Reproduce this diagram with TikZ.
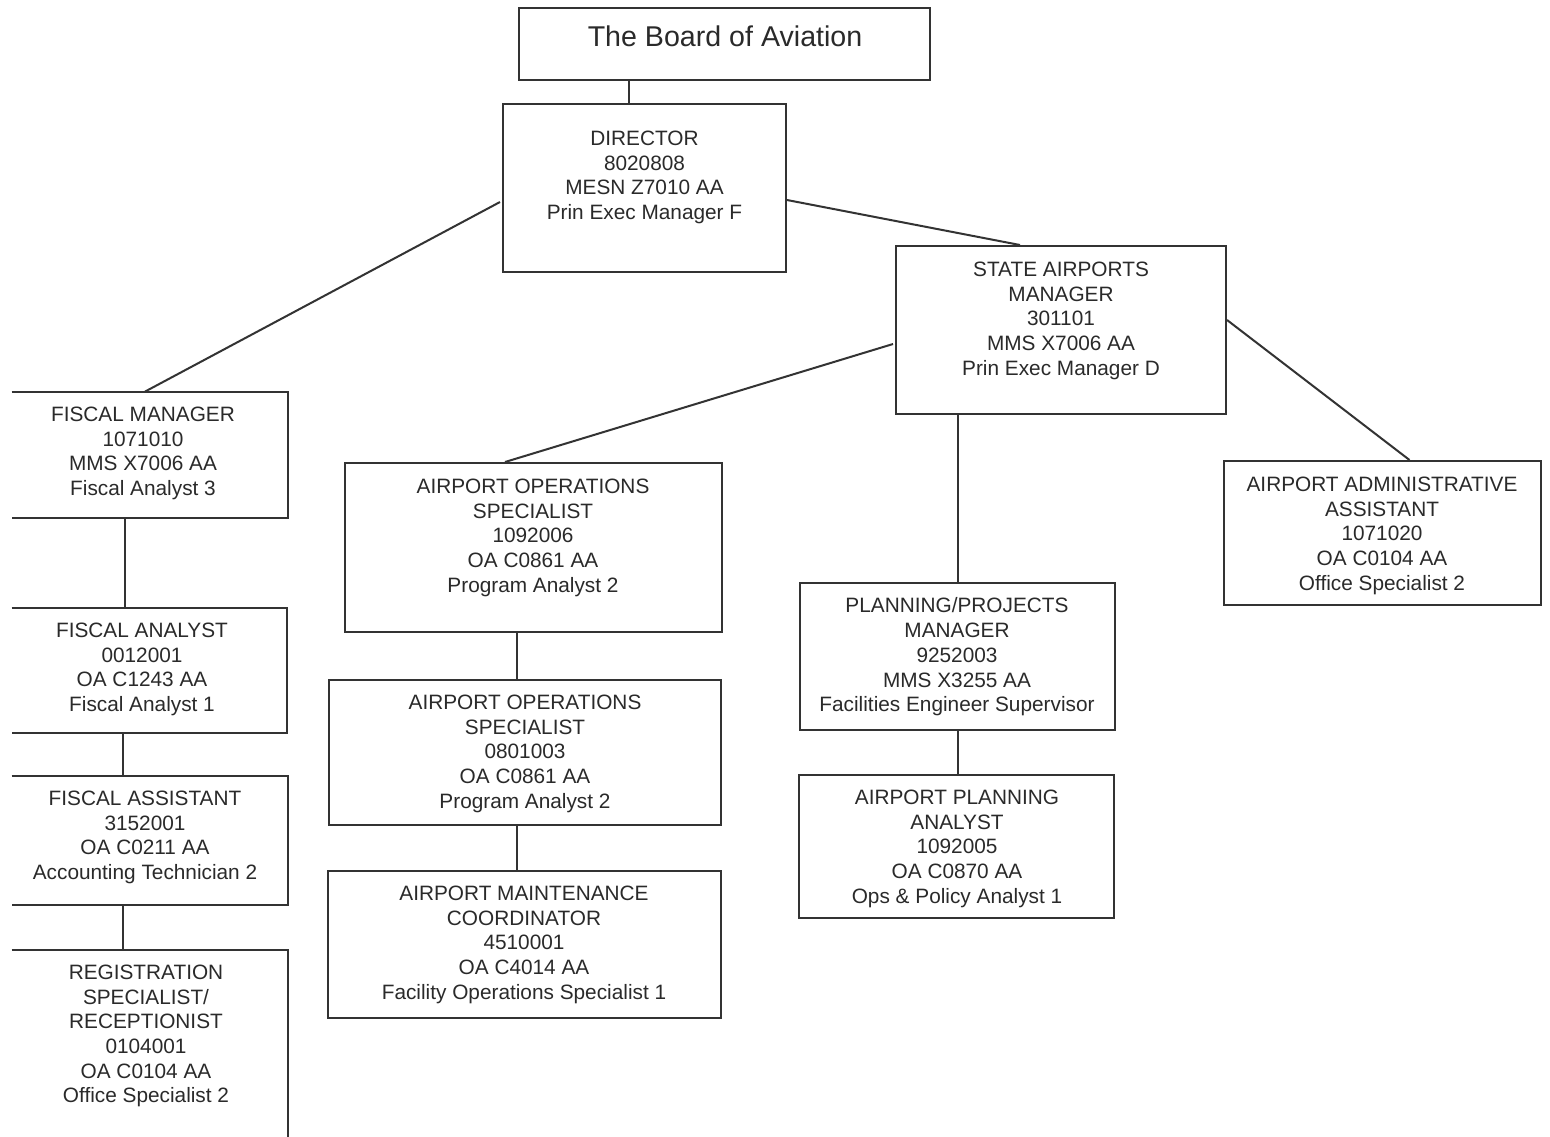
\documentclass[tikz,border=0pt]{standalone}
\usepackage{fontspec}
\setmainfont{Liberation Sans}
\usetikzlibrary{calc}
\definecolor{ink}{HTML}{2A2A2A}
\definecolor{edge}{HTML}{333333}
\tikzset{
  obox/.style={draw=edge, line width=1pt, inner sep=0pt, rectangle},
  openbox/.style={draw=none, inner sep=0pt, rectangle},
  txt/.style={text=ink, align=center, inner sep=0pt, font=\fontsize{10.4pt}{12.35pt}\selectfont},
  bigtxt/.style={text=ink, align=center, inner sep=0pt, font=\fontsize{14.3pt}{16pt}\selectfont},
  conn/.style={draw=edge, line width=1pt},
}
\newcommand\orgbox[6]{%
  \node[#6, minimum width={(#4-#2)*0.5pt}, minimum height={(#5-#3)*0.5pt}] (#1) at ({(#2+#4)/2},{(#3+#5)/2}) {};}
\begin{document}
\begin{tikzpicture}[x=0.5pt,y=-0.5pt]
\useasboundingbox (0,0) rectangle (1550,1136);
\fill[white] (0,0) rectangle (1550,1136);

% boxes
\orgbox{board}{519}{8}{930}{80}{obox}
\orgbox{dir}{503}{104}{786}{272}{obox}
\orgbox{sam}{896}{246}{1226}{414}{obox}
\orgbox{fm}{12}{392}{288}{518}{openbox}
\orgbox{fa}{12}{608}{287}{733}{openbox}
\orgbox{fas}{12}{776}{288}{905}{openbox}
\orgbox{reg}{12}{950}{288}{1160}{openbox}
\orgbox{aos1}{345}{463}{722}{632}{obox}
\orgbox{aos2}{329}{680}{721}{825}{obox}
\orgbox{amc}{328}{871}{721}{1018}{obox}
\orgbox{ppm}{800}{583}{1115}{730}{obox}
\orgbox{apa}{799}{775}{1114}{918}{obox}
\orgbox{aaa}{1224}{461}{1541}{605}{obox}

% open sides (left edge missing in the reference)
\draw[conn] (fm.north west) -- (fm.north east) -- (fm.south east) -- (fm.south west);
\draw[conn] (fa.north west) -- (fa.north east) -- (fa.south east) -- (fa.south west);
\draw[conn] (fas.north west) -- (fas.north east) -- (fas.south east) -- (fas.south west);
\draw[conn] (reg.north west) -- (reg.north east) -- (reg.south east);

% texts
\node[bigtxt, anchor=north] (board-t) at (725,25) {The Board of Aviation};
\node[txt, anchor=north] (dir-t) at (644.5,130.5) {DIRECTOR\\8020808\\MESN Z7010 AA\\Prin Exec Manager F};
\node[txt, anchor=north] (sam-t) at (1061,261.5) {STATE AIRPORTS\\MANAGER\\301101\\MMS X7006 AA\\Prin Exec Manager D};
\node[txt, anchor=north] (fm-t) at (143,406.5) {FISCAL MANAGER\\1071010\\MMS X7006 AA\\Fiscal Analyst 3};
\node[txt, anchor=north] (fa-t) at (142,622.5) {FISCAL ANALYST\\0012001\\OA C1243 AA\\Fiscal Analyst 1};
\node[txt, anchor=north] (fas-t) at (145,790.5) {FISCAL ASSISTANT\\3152001\\OA C0211 AA\\Accounting Technician 2};
\node[txt, anchor=north] (reg-t) at (146,964.5) {REGISTRATION\\SPECIALIST/\\RECEPTIONIST\\0104001\\OA C0104 AA\\Office Specialist 2};
\node[txt, anchor=north] (aos1-t) at (533,478.5) {AIRPORT OPERATIONS\\SPECIALIST\\1092006\\OA C0861 AA\\Program Analyst 2};
\node[txt, anchor=north] (aos2-t) at (525,694.5) {AIRPORT OPERATIONS\\SPECIALIST\\0801003\\OA C0861 AA\\Program Analyst 2};
\node[txt, anchor=north] (amc-t) at (524,885.5) {AIRPORT MAINTENANCE\\COORDINATOR\\4510001\\OA C4014 AA\\Facility Operations Specialist 1};
\node[txt, anchor=north] (ppm-t) at (957,597.5) {PLANNING/PROJECTS\\MANAGER\\9252003\\MMS X3255 AA\\Facilities Engineer Supervisor};
\node[txt, anchor=north] (apa-t) at (957,789.5) {AIRPORT PLANNING\\ANALYST\\1092005\\OA C0870 AA\\Ops \& Policy Analyst 1};
\node[txt, anchor=north] (aaa-t) at (1382,476.5) {AIRPORT ADMINISTRATIVE\\ASSISTANT\\1071020\\OA C0104 AA\\Office Specialist 2};

% connectors
\coordinate (bd) at ([shift={(-95.5,0)}]board.south);
\draw[conn] (bd) -- (bd |- dir.north);
\draw[conn] ([shift={(-2,14)}]dir.west) -- ([shift={(-5,0)}]fm.north);
\draw[conn] ([shift={(0,12)}]dir.east) -- ([shift={(-41,0)}]sam.north);
\draw[conn] ([shift={(-2,14)}]sam.west) -- ([shift={(-28.5,0)}]aos1.north);
\draw[conn] (ppm.north) -- (ppm.north |- sam.south);
\draw[conn] ([shift={(0,-10)}]sam.east) -- ([shift={(27,0)}]aaa.north);
\coordinate (fmx) at ([shift={(-25,0)}]fm.south);
\draw[conn] (fmx) -- (fmx |- fa.north);
\coordinate (fax) at ([shift={(-26.5,0)}]fa.south);
\draw[conn] (fax) -- (fax |- fas.north);
\coordinate (fasx) at ([shift={(-27,0)}]fas.south);
\draw[conn] (fasx) -- (fasx |- reg.north);
\coordinate (a1x) at ([shift={(-16.5,0)}]aos1.south);
\draw[conn] (a1x) -- (a1x |- aos2.north);
\coordinate (a2x) at (a1x |- aos2.south);
\draw[conn] (a2x) -- (a2x |- amc.north);
\draw[conn] (ppm.south) -- (ppm.south |- apa.north);
\end{tikzpicture}
\end{document}
